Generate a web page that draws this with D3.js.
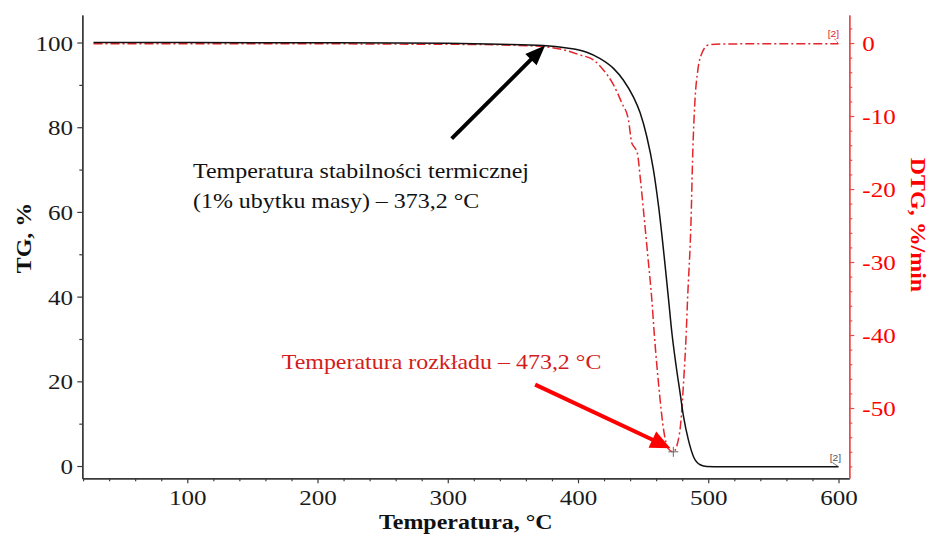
<!DOCTYPE html>
<html>
<head>
<meta charset="utf-8">
<script src="https://cdn.jsdelivr.net/npm/d3@7"></script>
<style>
  html, body { margin: 0; padding: 0; background: #fff; }
  svg { display: block; font-family: "Liberation Serif", "Times New Roman", serif; }
</style>
</head>
<body>
<svg id="chart" width="929" height="534"></svg>
<script>
// TG curve (mass, %).
const tgTemp = [28, 100, 200, 263, 300, 340, 373.2, 391.4, 406.7, 417, 427.2, 434.9, 442.6, 447.7,
  452.8, 457.9, 461.8, 469.5, 472.1, 475.4, 478.4, 481, 484.8, 488.7, 493.8, 498.9, 510, 550, 600];
const tgValues = [100, 100, 99.95, 99.9, 99.8, 99.6, 99.3, 98.7, 97.7, 96.2, 93.9, 91.1, 87.1, 83.4,
  77.8, 70, 61.5, 39.4, 31.4, 23.5, 17.2, 11.7, 6.1, 2.2, 0.3, -0.1, -0.15, -0.15, -0.15];

// DTG curve (%/min).
const dtgTemp = [28, 100, 200, 263, 320, 350, 373.5, 391.4, 401.6, 411.8, 419.5, 427.2, 433.6, 438.7,
  441.3, 443.8, 445.6, 447.7, 450.2, 453.5, 456.7, 458.5, 461.8, 466.1, 469.4, 473.2, 478, 481,
  483.1, 484.1, 486.8, 488.1, 489.7, 492, 495.1, 500.1, 509.1, 550, 600];
const dtgValues = [-0.1, -0.1, -0.1, -0.15, -0.2, -0.3, -0.5, -1.05, -1.64, -2.3, -3.7, -5.7, -8.2, -10.5,
  -13.7, -14.4, -15.1, -18.3, -22.8, -29, -35.2, -39.7, -46.6, -53.4, -55.6, -56, -53.4, -46.6,
  -39.7, -35.2, -24.2, -15.1, -8.2, -3.7, -1.4, -0.27, -0.14, -0.1, -0.1];

// Axis ticks.
const xTicks = [100, 200, 300, 400, 500, 600];
const tgTicks = [0, 20, 40, 60, 80, 100];
const dtgTicks = [0, -10, -20, -30, -40, -50];

// Annotated points.
const stabilityPoint = {temp: 373.2, tg: 99.3};
const decompPoint = {temp: 473.2, dtg: -56};

const svg = d3.select('#chart');

const plot = {left: 82.3, right: 849.3, top: 15, bottom: 478.3};

const x = d3.scaleLinear().domain([19.4, 608.3]).range([plot.left, plot.right]);
const yTg = d3.scaleLinear().domain([-2.9, 106.5]).range([plot.bottom, plot.top]);
const yDtg = d3.scaleLinear().domain([-59.63, 3.84]).range([plot.bottom, plot.top]);

const AXIS_GREY = '#3a3a3a';
const RED = '#ff0000';
const RED_AXIS = '#ec4a4a';

// Plain hyphen for negatives, as in the original.
const plainFormat = (d) => String(d);

// Minor ticks first, majors over them.
const xMinor = d3.range(20, 601, 20).filter((v) => v % 100 !== 0);
const tgMinor = d3.range(10, 101, 20);
const dtgMinor = d3.range(2, -59, -2).filter((v) => v % 10 !== 0);

function styleAxis(g, color) {
  g.select('.domain').attr('stroke', color).attr('stroke-width', 1.4);
  g.selectAll('.tick line').attr('stroke', color).attr('stroke-width', 1.2);
}

// Bottom axis
svg.append('g')
  .attr('transform', `translate(0,${plot.bottom})`)
  .call(d3.axisBottom(x).tickValues(xMinor).tickSize(3).tickSizeOuter(0).tickFormat(''))
  .call((g) => styleAxis(g, AXIS_GREY));
const xAxisG = svg.append('g')
  .attr('transform', `translate(0,${plot.bottom})`)
  .call(d3.axisBottom(x).tickValues(xTicks).tickSize(5).tickSizeOuter(0).tickFormat(plainFormat))
  .call((g) => styleAxis(g, AXIS_GREY));
xAxisG.selectAll('.tick text')
  .attr('y', 26.7).attr('dy', 0)
  .attr('font-size', 22).attr('font-family', 'Liberation Serif').attr('fill', '#1a1a1a');

// Left axis (TG)
svg.append('g')
  .attr('transform', `translate(${plot.left},0)`)
  .call(d3.axisLeft(yTg).tickValues(tgMinor).tickSize(3).tickSizeOuter(0).tickFormat(''))
  .call((g) => styleAxis(g, AXIS_GREY));
const tgAxisG = svg.append('g')
  .attr('transform', `translate(${plot.left},0)`)
  .call(d3.axisLeft(yTg).tickValues(tgTicks).tickSize(5).tickSizeOuter(0).tickFormat(plainFormat))
  .call((g) => styleAxis(g, AXIS_GREY));
tgAxisG.selectAll('.tick text')
  .attr('x', -9.3).attr('dy', '0.34em')
  .attr('font-size', 22).attr('font-family', 'Liberation Serif').attr('fill', '#1a1a1a');

// Right axis (DTG)
svg.append('g')
  .attr('transform', `translate(${plot.right},0)`)
  .call(d3.axisRight(yDtg).tickValues(dtgMinor).tickSize(3).tickSizeOuter(0).tickFormat(''))
  .call((g) => styleAxis(g, RED_AXIS));
const dtgAxisG = svg.append('g')
  .attr('transform', `translate(${plot.right},0)`)
  .call(d3.axisRight(yDtg).tickValues(dtgTicks).tickSize(5).tickSizeOuter(0).tickFormat(plainFormat))
  .call((g) => styleAxis(g, RED_AXIS));
dtgAxisG.selectAll('.tick text')
  .attr('x', 13).attr('dy', '0.34em')
  .attr('font-size', 22).attr('font-family', 'Liberation Serif').attr('fill', RED);

// Axis titles
svg.append('text')
  .attr('x', (plot.left + plot.right) / 2).attr('y', 529)
  .attr('text-anchor', 'middle')
  .attr('font-size', 21).attr('font-weight', 'bold').attr('fill', '#111')
  .text('Temperatura, °C');

svg.append('text')
  .attr('transform', 'translate(31,238) rotate(-90)')
  .attr('text-anchor', 'middle')
  .attr('font-size', 21).attr('font-weight', 'bold').attr('fill', '#111')
  .text('TG, %');

svg.append('text')
  .attr('transform', 'translate(911,225) rotate(90)')
  .attr('text-anchor', 'middle')
  .attr('font-size', 21).attr('font-weight', 'bold').attr('fill', RED)
  .text('DTG, %/min');

// Curves
const tgLine = d3.line()
  .x((d, i) => x(tgTemp[i]))
  .y((d) => yTg(d))
  .curve(d3.curveMonotoneX);

const dtgLine = d3.line()
  .x((d, i) => x(dtgTemp[i]))
  .y((d) => yDtg(d))
  .curve(d3.curveMonotoneX);

svg.append('path')
  .datum(dtgValues)
  .attr('d', dtgLine)
  .attr('fill', 'none')
  .attr('stroke', '#e3262c')
  .attr('stroke-width', 1.5)
  .attr('stroke-dasharray', '9,3,2,3');

svg.append('path')
  .datum(tgValues)
  .attr('d', tgLine)
  .attr('fill', 'none')
  .attr('stroke', '#111')
  .attr('stroke-width', 1.5);

// Curve end labels "[2]"
const tgEnd = [x(tgTemp[tgTemp.length - 1]), yTg(tgValues[tgValues.length - 1])];
const dtgEnd = [x(dtgTemp[dtgTemp.length - 1]), yDtg(dtgValues[dtgValues.length - 1])];

svg.append('line')
  .attr('x1', tgEnd[0] - 6).attr('y1', tgEnd[1] - 4)
  .attr('x2', tgEnd[0]).attr('y2', tgEnd[1])
  .attr('stroke', '#555').attr('stroke-width', 0.8);
svg.append('text')
  .attr('x', tgEnd[0] - 3).attr('y', tgEnd[1] - 6)
  .attr('text-anchor', 'middle')
  .attr('font-size', 9).attr('font-family', 'Liberation Sans').attr('fill', '#555')
  .text('[2]');

svg.append('line')
  .attr('x1', dtgEnd[0] - 4).attr('y1', dtgEnd[1] - 5)
  .attr('x2', dtgEnd[0]).attr('y2', dtgEnd[1])
  .attr('stroke', '#e3262c').attr('stroke-width', 0.8).attr('stroke-dasharray', '2,1.5');
svg.append('text')
  .attr('x', dtgEnd[0] - 5).attr('y', dtgEnd[1] - 7)
  .attr('text-anchor', 'middle')
  .attr('font-size', 9).attr('font-family', 'Liberation Sans').attr('fill', '#e3262c')
  .text('[2]');

// Crosshair at the DTG minimum
const cx = x(decompPoint.temp);
const cy = yDtg(decompPoint.dtg);
svg.append('path')
  .attr('d', `M${cx - 5},${cy}H${cx + 5}M${cx},${cy - 5}V${cy + 5}`)
  .attr('stroke', '#666').attr('stroke-width', 1);

// Arrows: a thick shaft plus a filled triangular head.
function arrow(from, to, color, headLen, headHalf, width) {
  const dx = to[0] - from[0];
  const dy = to[1] - from[1];
  const len = Math.hypot(dx, dy);
  const ux = dx / len;
  const uy = dy / len;
  const bx = to[0] - ux * headLen;
  const by = to[1] - uy * headLen;
  svg.append('line')
    .attr('x1', from[0]).attr('y1', from[1])
    .attr('x2', bx + ux * 2).attr('y2', by + uy * 2)
    .attr('stroke', color).attr('stroke-width', width);
  svg.append('path')
    .attr('d', `M${to[0]},${to[1]}L${bx - uy * headHalf},${by + ux * headHalf}` +
      `L${bx + uy * headHalf},${by - ux * headHalf}Z`)
    .attr('fill', color);
}

arrow([x(303), yTg(77.3)], [x(stabilityPoint.temp) + 2, yTg(stabilityPoint.tg)], '#000', 20, 8, 4);
arrow([x(367.1), yDtg(-46.8)], [x(471), yDtg(-55.5)], RED, 20, 9, 4);

// Annotation texts
svg.append('text')
  .attr('x', 193).attr('y', 178)
  .attr('font-size', 21).attr('fill', '#111')
  .text('Temperatura stabilności termicznej');
svg.append('text')
  .attr('x', 193).attr('y', 208)
  .attr('font-size', 21).attr('fill', '#111')
  .text('(1% ubytku masy) – 373,2 °C');
svg.append('text')
  .attr('x', 281.7).attr('y', 369)
  .attr('font-size', 21).attr('fill', '#d41c1c')
  .text('Temperatura rozkładu – 473,2 °C');

// The reference text is a bit wider than Times at this height.
const STRETCH = 1.14;
svg.selectAll('text').each(function() {
  const w = this.getComputedTextLength();
  if (w > 0) {
    d3.select(this)
      .attr('textLength', w * STRETCH)
      .attr('lengthAdjust', 'spacingAndGlyphs');
  }
});
</script>
</body>
</html>
